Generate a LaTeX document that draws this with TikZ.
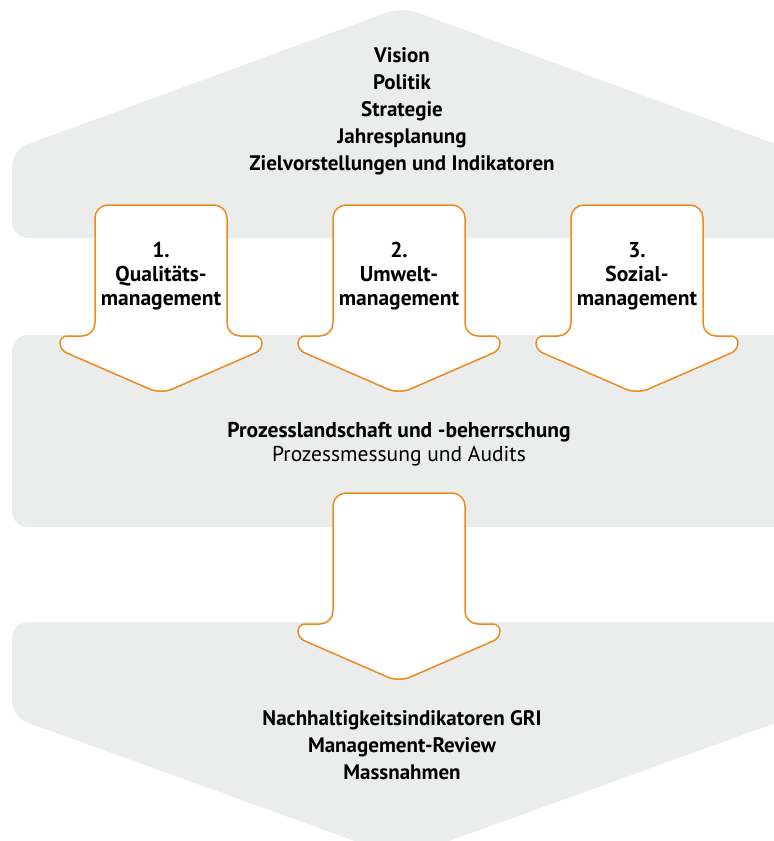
\documentclass[tikz,border=0pt]{standalone}
\usepackage{fontspec}
\setmainfont{PT Sans}
\usetikzlibrary{positioning}
\definecolor{bandgrey}{HTML}{EBECEC}
\definecolor{arroworange}{HTML}{EE8A1C}
\tikzset{
  band/.style={fill=bandgrey,rounded corners=16pt},
  flowarrow/.style={draw=arroworange,line width=1.5pt,fill=white,line join=round},
  textblock/.style={font=\bfseries\fontsize{21}{27}\selectfont,align=center,inner sep=0pt},
  arrowtext/.style={textblock,font=\bfseries\fontsize{21.5}{24}\selectfont},
  pics/mgmtarrow/.style={code={
    \path[flowarrow] (0,0) [rounded corners=13pt] -- (-66,0) -- (-66,131)
      [rounded corners=7pt] -- (-101,131) -- (-101,145)
      [rounded corners=12pt] -- (0,189)
      [rounded corners=7pt] -- (101,145) -- (101,131)
      [rounded corners=13pt] -- (66,131) -- (66,0) [sharp corners] -- cycle;
  }}
}
\begin{document}
\begin{tikzpicture}[x=1pt,y=-1pt]
  \useasboundingbox (0,0) rectangle (774,841);
  \begin{scope}
    \clip (0,0) rectangle (774,841);
    % grey bands
    \path[band] (12,238) -- (12,150) -- (402,7) -- (792,150) -- (792,238) -- cycle;
    \path[band] (12,335) rectangle (792,527);
    \path[band] (12,622) -- (12,717) -- (402,858) -- (792,717) -- (792,622) -- cycle;
  \end{scope}
  % arrows
  \foreach \cx in {161,399,637}
    \pic at (\cx,205) {mgmtarrow};
  \pic at (399,493) {mgmtarrow};
  % texts
  \node[textblock] (vision) at (402,111)
    {Vision\\Politik\\Strategie\\Jahresplanung\\Zielvorstellungen und Indikatoren};
  \node[arrowtext] (quality) at (161,276) {1.\\Qualitäts-\\management};
  \node[arrowtext] (environment) at (399,276) {2.\\Umwelt-\\management};
  \node[arrowtext] (social) at (637,276) {3.\\Sozial-\\management};
  \node[arrowtext] (process) at (399,444)
    {Prozesslandschaft und -beherrschung\\\mdseries Prozessmessung und Audits};
  \node[textblock] (review) at (402,745)
    {Nachhaltigkeitsindikatoren GRI\\Management-Review\\Massnahmen};
\end{tikzpicture}
\end{document}
